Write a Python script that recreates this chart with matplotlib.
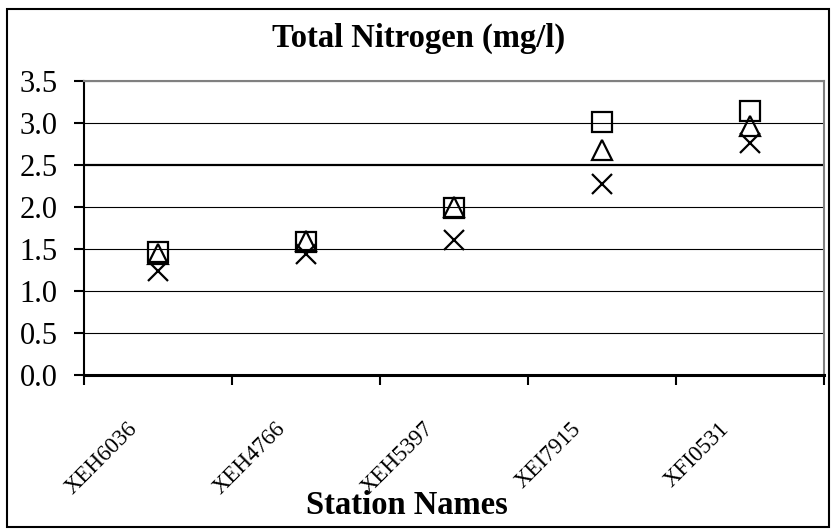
import numpy as np
import matplotlib
matplotlib.use("Agg")
import matplotlib.pyplot as plt
from matplotlib.patches import Rectangle
from matplotlib.transforms import ScaledTranslation

# -------------------------
# DATA
# -------------------------
stations = ["XEH6036", "XEH4766", "XEH5397", "XEI7915", "XFI0531"]
tn_square = [1.46, 1.58, 1.99, 3.01, 3.14]
tn_triangle = [1.44, 1.60, 2.00, 2.68, 2.97]
tn_cross = [1.24, 1.44, 1.61, 2.27, 2.76]
y_ticks = [0.0, 0.5, 1.0, 1.5, 2.0, 2.5, 3.0, 3.5]

plt.rcParams['font.family'] = ['Liberation Serif', 'DejaVu Serif']

fig = plt.figure(figsize=(8.33, 5.29), dpi=100)
ax = fig.add_axes([84 / 833, 1 - 375 / 529, 740 / 833, 294 / 529])

x = np.arange(len(stations))
mk = dict(linestyle="none", color="black", markerfacecolor="none",
          markersize=14, markeredgewidth=1.6, clip_on=False)
ax.plot(x, tn_square, marker="s", **mk)
ax.plot(x, tn_triangle, marker="^", **mk)
ax.plot(x, tn_cross, marker="x", **mk)

ax.set_xlim(-0.5, len(stations) - 0.5)
ax.set_ylim(0, 3.5)
ax.set_yticks(y_ticks)
ax.set_yticklabels([f"{v:.1f}" for v in y_ticks], fontsize=22)
ax.yaxis.grid(True, color="black", linewidth=0.8)
ax.get_ygridlines()[5].set_linewidth(1.6)
ax.set_axisbelow(True)

# ticks between categories, labels placed under category centres
ax.set_xticks(np.arange(-0.5, len(stations), 1.0))
ax.set_xticklabels([])
ax.tick_params(axis="x", length=7, width=1.5, direction="out")
ax.tick_params(axis="y", length=7, width=1.5, direction="out", pad=12)

shift = ax.transData + ScaledTranslation(-0.24, -0.51, fig.dpi_scale_trans)
for xi, name in zip(x, stations):
    ax.text(xi, 0, name, transform=shift, rotation=45, ha="right",
            va="center", rotation_mode="anchor", fontsize=16.5, clip_on=False)

ax.spines["left"].set_linewidth(1.5)
ax.spines["bottom"].set_linewidth(2.2)
ax.spines["top"].set_color("#808080")
ax.spines["right"].set_color("#808080")
ax.spines["top"].set_linewidth(1.5)
ax.spines["right"].set_linewidth(1.5)

fig.text(419 / 833, 1 - 38 / 529, "Total Nitrogen (mg/l)", ha="center",
         va="center", fontsize=23.5, fontweight="bold")
fig.text(407 / 833, 1 - 505 / 529, "Station Names", ha="center",
         va="center", fontsize=23.5, fontweight="bold")

# outer chart border
fig.patches.append(Rectangle((7 / 833, 2 / 529), 822 / 833, 518 / 529,
                             transform=fig.transFigure, fill=False,
                             edgecolor="black", linewidth=1.5))

fig.savefig("out.png", dpi=100)
